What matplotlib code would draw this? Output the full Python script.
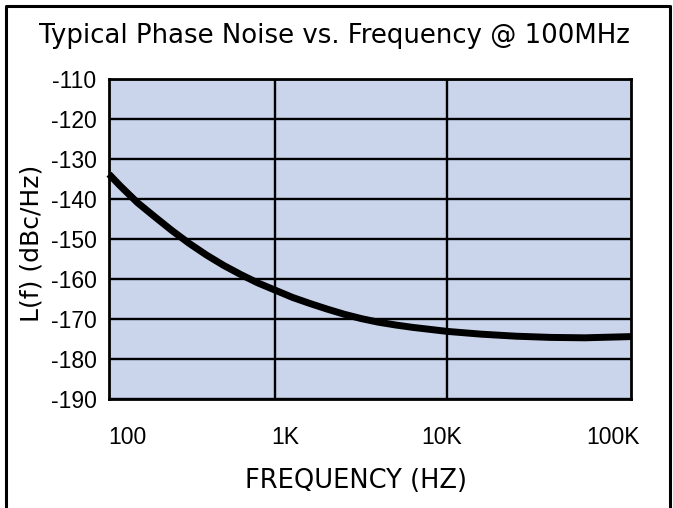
import matplotlib
matplotlib.use("Agg")
import matplotlib.pyplot as plt
from matplotlib.lines import Line2D

# curve (Hz, dBc/Hz)
freq_hz = [108, 126, 158, 200, 251, 316, 398, 501, 631, 794, 1000, 1259, 1585,
           1995, 2512, 3162, 3981, 5012, 6310, 7943, 10000, 15850, 25120,
           39810, 63100, 117000]
noise_dbc = [-133.8, -136.8, -140.9, -144.5, -147.9, -151.1, -154.0, -156.6,
             -158.9, -161.0, -162.8, -164.6, -166.1, -167.5, -168.8, -169.9,
             -170.8, -171.5, -172.1, -172.6, -173.1, -173.8, -174.3, -174.6,
             -174.7, -174.4]

y_ticks = [-190, -180, -170, -160, -150, -140, -130, -120, -110]
x_grid = [1000, 10000]
x_labels = ["100", "1K", "10K", "100K"]

W, H = 673, 508
fig = plt.figure(figsize=(W / 100, H / 100), dpi=100)

# outer frame (left, top, right)
fx = [5.5 / W, 5.5 / W, 669.5 / W, 669.5 / W]
fy = [0.0, 1 - 5.5 / H, 1 - 5.5 / H, 0.0]
fig.add_artist(Line2D(fx, fy, color="black", lw=2.2, transform=fig.transFigure))

left, right, top, bottom = 109, 631, 79, 399
ax = fig.add_axes([left / W, 1 - bottom / H, (right - left) / W, (bottom - top) / H])
ax.set_facecolor("#CAD5EC")

ax.set_xscale("log")
ax.set_xlim(108, 117000)
ax.set_ylim(-190, -110)

ax.set_yticks(y_ticks)
ax.set_yticklabels([str(v) for v in y_ticks], fontsize=16.5, family="Liberation Sans")
ax.tick_params(axis="y", length=0, pad=9)

ax.set_xticks(x_grid)
ax.set_xticks([], minor=True)
ax.set_xticklabels([])
ax.tick_params(axis="x", length=0)

ax.grid(True, color="black", lw=1.7)
ax.set_axisbelow(True)
for s in ax.spines.values():
    s.set_linewidth(2.0)

ax.plot(freq_hz, noise_dbc, color="black", lw=5, solid_capstyle="butt",
        solid_joinstyle="round", clip_on=False, zorder=3)

# x labels are offset from the gridlines in the original drawing
label_x = [127.5, 285, 441.5, 613]
for lx, txt in zip(label_x, x_labels):
    fig.text(lx / W, 1 - 438 / H, txt, ha="center", va="center", fontsize=16.5,
             family="Liberation Sans")

fig.text(356 / W, 1 - 481 / H, "FREQUENCY (HZ)", ha="center", va="center",
         fontsize=18.5, family="DejaVu Sans")
fig.text(31 / W, 1 - 243 / H, "L(f) (dBc/Hz)", ha="center", va="center",
         fontsize=18, rotation=90, family="DejaVu Sans")
fig.text(334 / W, 1 - 36 / H, "Typical Phase Noise vs. Frequency @ 100MHz",
         ha="center", va="center", fontsize=18.7, family="DejaVu Sans")

fig.savefig("out.png", dpi=100)
